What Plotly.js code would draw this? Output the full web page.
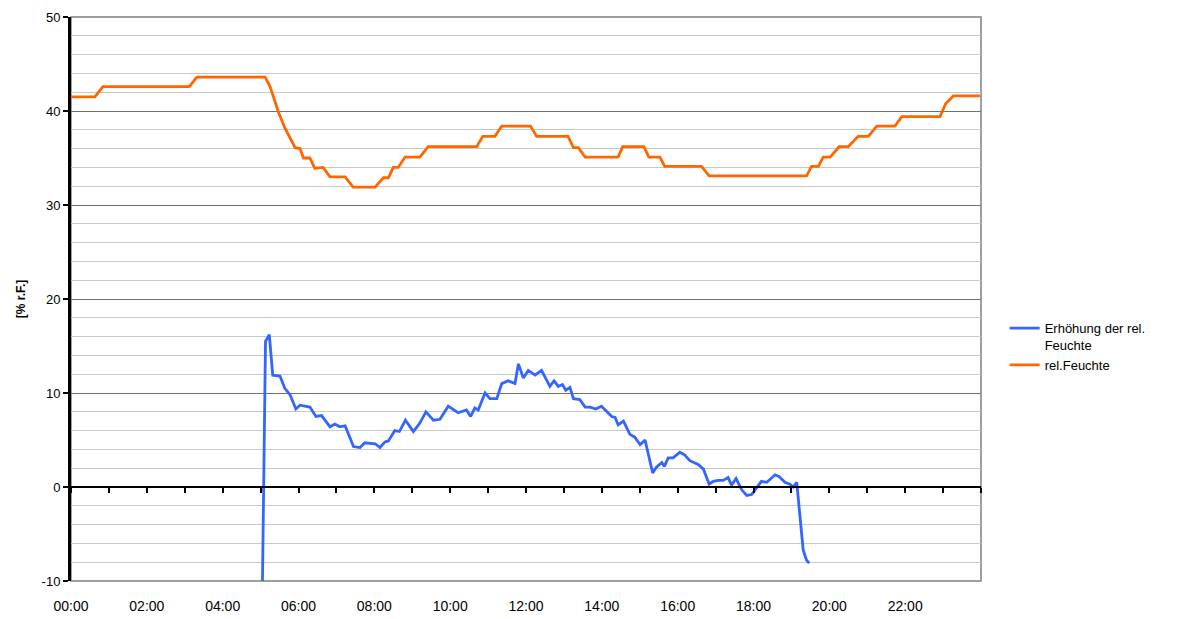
<!DOCTYPE html>
<html>
<head>
<meta charset="utf-8">
<script src="https://cdn.plot.ly/plotly-3.0.1.min.js"></script>
<style>html,body{margin:0;padding:0;background:#fff;}#chart{width:1182px;height:619px;}</style>
</head>
<body>
<div id="chart"></div>
<script>
// Time in decimal hours of the day
const feuchteHours = [0.00,0.63,0.84,3.12,3.32,5.12,5.25,5.47,5.64,5.82,5.91,6.04,6.13,6.30,6.43,6.65,6.83,7.23,7.44,8.02,8.24,8.37,8.50,8.63,8.81,9.20,9.42,10.70,10.86,11.18,11.36,12.12,12.28,13.11,13.25,13.38,13.56,14.43,14.55,15.11,15.24,15.53,15.66,16.63,16.83,19.40,19.53,19.71,19.84,20.02,20.26,20.50,20.76,21.03,21.25,21.73,21.91,22.92,23.07,23.27,23.97];
const feuchteValues = [41.5,41.5,42.6,42.6,43.6,43.6,42.6,39.9,38.2,36.9,36.1,36.0,35.0,35.0,33.9,34.0,33.0,33.0,31.9,31.9,32.9,32.9,34.0,34.0,35.1,35.1,36.2,36.2,37.3,37.3,38.4,38.4,37.3,37.3,36.1,36.1,35.1,35.1,36.2,36.2,35.1,35.1,34.1,34.1,33.1,33.1,34.1,34.1,35.1,35.1,36.2,36.2,37.3,37.3,38.4,38.4,39.4,39.4,40.8,41.6,41.6];

const erhoehungHours = [5.05,5.13,5.23,5.32,5.51,5.64,5.78,5.93,6.04,6.30,6.46,6.61,6.83,6.96,7.09,7.23,7.45,7.62,7.75,8.02,8.15,8.28,8.37,8.54,8.66,8.82,9.03,9.20,9.36,9.56,9.73,9.95,10.21,10.43,10.54,10.65,10.74,10.92,11.05,11.23,11.36,11.53,11.71,11.80,11.93,12.06,12.24,12.41,12.63,12.74,12.85,12.96,13.05,13.16,13.25,13.42,13.56,13.69,13.84,13.99,14.26,14.35,14.43,14.57,14.74,14.87,15.01,15.14,15.34,15.44,15.58,15.65,15.75,15.88,16.06,16.19,16.32,16.54,16.68,16.83,16.94,17.07,17.20,17.33,17.42,17.54,17.69,17.82,17.95,18.08,18.21,18.35,18.57,18.68,18.83,18.96,19.05,19.14,19.22,19.31,19.40,19.47];
const erhoehungValues = [-10,15.5,16.2,11.9,11.8,10.5,9.8,8.3,8.7,8.5,7.5,7.6,6.4,6.7,6.4,6.5,4.3,4.2,4.7,4.6,4.2,4.8,4.9,6.0,5.9,7.1,5.9,6.8,8.0,7.1,7.2,8.6,7.9,8.2,7.5,8.4,8.2,10.0,9.4,9.4,11.0,11.3,11.0,13.1,11.6,12.4,11.9,12.4,10.7,11.3,10.7,10.9,10.3,10.6,9.4,9.3,8.5,8.5,8.3,8.6,7.5,7.4,6.6,7.0,5.6,5.3,4.5,5.0,1.5,2.1,2.6,2.2,3.1,3.1,3.7,3.4,2.8,2.4,1.9,0.3,0.6,0.7,0.7,1.0,0.2,0.9,-0.3,-0.9,-0.8,-0.1,0.6,0.5,1.3,1.1,0.5,0.3,0.0,0.5,-3.2,-6.7,-7.8,-8.1];

const tickHours = [0,2,4,6,8,10,12,14,16,18,20,22];
const tickLabels = ["00:00","02:00","04:00","06:00","08:00","10:00","12:00","14:00","16:00","18:00","20:00","22:00"];
const yTickValues = [-10,0,10,20,30,40,50];
const yTickLabels = ["-10","0","10","20","30","40","50"];

const seriesNames = ["Erhöhung der rel.<br>Feuchte", "rel.Feuchte"];
const seriesColors = ["#3366FF", "#FF6600"];

const FONT = "Liberation Sans, Arial, sans-serif";

const traces = [
  {x: erhoehungHours, y: erhoehungValues, name: seriesNames[0], type: "scatter", mode: "lines",
   line: {color: seriesColors[0], width: 2.8}, xaxis: "x", yaxis: "y"},
  {x: feuchteHours, y: feuchteValues, name: seriesNames[1], type: "scatter", mode: "lines",
   line: {color: seriesColors[1], width: 2.8}, xaxis: "x2", yaxis: "y"}
];

const layout = {
  width: 1182, height: 619,
  margin: {l: 71, r: 201, t: 17, b: 38},
  paper_bgcolor: "#ffffff", plot_bgcolor: "#ffffff",
  font: {family: FONT, color: "#000000", size: 13},
  showlegend: true,
  legend: {x: 1.026, y: 0.475, xanchor: "left", yanchor: "top", font: {family: FONT, size: 13, color: "#000"},
           bgcolor: "rgba(0,0,0,0)", valign: "top", tracegroupgap: 0},
  xaxis: {range: [0, 24], tickmode: "array", tickvals: tickHours, ticktext: tickLabels,
          showgrid: false, zeroline: false, showline: false,
          ticks: "outside", ticklen: 12, tickcolor: "rgba(0,0,0,0)",
          tickfont: {family: FONT, size: 14, color: "#000"}, fixedrange: true},
  xaxis2: {range: [0, 24], overlaying: "x", anchor: "free", position: 1/6,
           tickmode: "linear", tick0: 0, dtick: 1,
           ticks: "outside", ticklen: 5, tickwidth: 2, tickcolor: "#000",
           showline: true, linecolor: "#000", linewidth: 2,
           showticklabels: false, showgrid: false, zeroline: false, fixedrange: true},
  yaxis: {range: [-10, 50], tickmode: "array", tickvals: yTickValues, ticktext: yTickLabels,
          ticks: "outside", ticklen: 5, tickwidth: 2, tickcolor: "#000",
          showline: true, linecolor: "#000", linewidth: 3,
          showgrid: true, gridcolor: "#707070", gridwidth: 1,
          zeroline: false,
          minor: {tickmode: "linear", tick0: 0, dtick: 2, showgrid: true, gridcolor: "#c8c8c8", gridwidth: 1, ticks: ""},
          tickfont: {family: FONT, size: 13, color: "#000"},
          title: {text: "<b>[% r.F.]</b>", font: {family: FONT, size: 12, color: "#000"}, standoff: 14},
          fixedrange: true},
  shapes: [
    {type: "rect", xref: "paper", yref: "paper", x0: 0, x1: 1, y0: 0, y1: 1,
     line: {color: "#808080", width: 1.5}, layer: "below"}
  ]
};

Plotly.newPlot("chart", traces, layout, {displayModeBar: false, staticPlot: true});
</script>
</body>
</html>
